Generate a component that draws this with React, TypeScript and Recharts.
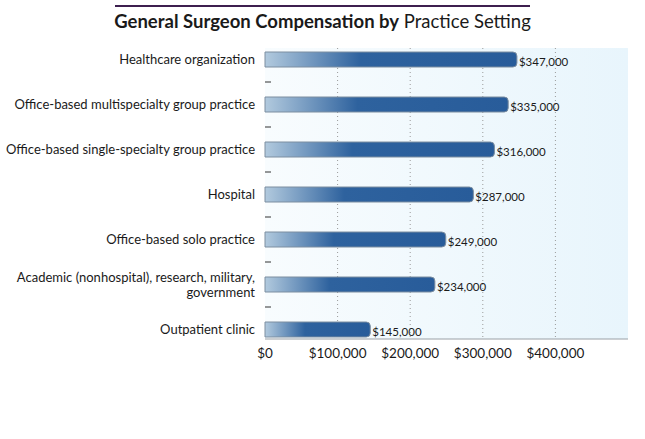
import React from "react";
import { BarChart, Bar, XAxis, YAxis, CartesianGrid, LabelList } from "recharts";

const categories = [
  "Healthcare organization",
  "Office-based multispecialty group practice",
  "Office-based single-specialty group practice",
  "Hospital",
  "Office-based solo practice",
  "Academic (nonhospital), research, military, government",
  "Outpatient clinic",
];
const compensation = [347000, 335000, 316000, 287000, 249000, 234000, 145000];
const xTicks = [0, 100000, 200000, 300000, 400000];
const xDomain = [0, 500000];
const labelLines: Record<string, string[]> = {
  "Academic (nonhospital), research, military, government": [
    "Academic (nonhospital), research, military,",
    "government",
  ],
};

const data = categories.map((c, i) => ({ name: c, value: compensation[i] }));

const money = (v: number) => "$" + v.toLocaleString("en-US");

const FONT = "Lato, 'Open Sans', sans-serif";

const CatTick = (props: any) => {
  const { x, y, payload, index, visibleTicksCount } = props;
  const lines = labelLines[payload.value] || [payload.value];
  const lh = 15;
  const start = y - ((lines.length - 1) * lh) / 2;
  const half = payload.offset || 0;
  const isLast = index === (visibleTicksCount ?? categories.length) - 1;
  return (
    <g>
      <text x={x - 2} y={start} textAnchor="end" fontSize={13} fill="#1a1a1a" fontFamily={FONT}>
        {lines.map((l: string, i: number) => (
          <tspan key={i} x={x - 2} y={start + i * lh} dy="0.35em">
            {l}
          </tspan>
        ))}
      </text>
      {!isLast && (
        <line x1={x + 8} x2={x + 14} y1={y + half} y2={y + half} stroke="#333" strokeWidth={1} />
      )}
    </g>
  );
};

export default function App() {
  return (
    <div style={{ position: "absolute", left: 0, top: 0, width: 645, height: 439, background: "#fff" }}>
      <div
        style={{
          position: "absolute",
          left: 115,
          top: 5,
          width: 415,
          height: 2,
          background: "#3d1f4f",
        }}
      />
      <div
        style={{
          position: "absolute",
          left: 0,
          top: 10,
          width: 645,
          textAlign: "center",
          fontFamily: FONT,
          fontSize: 18.5,
          color: "#1a1a1a",
        }}
      >
        <span style={{ fontWeight: 700 }}>General Surgeon Compensation by</span> Practice Setting
      </div>
      <BarChart
        width={645}
        height={439}
        data={data}
        layout="vertical"
        margin={{ top: 48, right: 17, bottom: 70, left: 0 }}
        style={{ position: "absolute", left: 0, top: 0 }}
      >
        <defs>
          <linearGradient id="bgGrad" x1="0" y1="0" x2="1" y2="0">
            <stop offset="0%" stopColor="#f8fcfe" />
            <stop offset="100%" stopColor="#e8f5fc" />
          </linearGradient>
          <linearGradient id="barGrad" x1="0" y1="0" x2="1" y2="0">
            <stop offset="0%" stopColor="#b2cade" />
            <stop offset="38%" stopColor="#2e629e" />
            <stop offset="100%" stopColor="#285c9a" />
          </linearGradient>
        </defs>
        <CartesianGrid
          horizontal={false}
          verticalValues={xTicks.slice(1)}
          stroke="#9a9a9a"
          strokeDasharray="1 3"
          fill="url(#bgGrad)"
          fillOpacity={1}
        />
        <XAxis
          type="number"
          domain={xDomain}
          ticks={xTicks}
          tickFormatter={money}
          axisLine={{ stroke: "#9aa0a6" }}
          tickLine={false}
          tick={{ fontSize: 13.5, fill: "#1a1a1a", fontFamily: FONT }}
          tickMargin={3}
          height={30}
        />
        <YAxis
          type="category"
          dataKey="name"
          width={265}
          axisLine={false}
          tickLine={false}
          tick={<CatTick />}
          interval={0}
          padding={{ top: -11, bottom: -13 }}
        />
        <Bar
          dataKey="value"
          barSize={15}
          fill="url(#barGrad)"
          stroke="#7d8ea0"
          strokeWidth={1}
          radius={[0, 4, 4, 0]}
          isAnimationActive={false}
        >
          <LabelList
            dataKey="value"
            position="right"
            offset={2}
            formatter={(v: any) => money(Number(v))}
            style={{ fontSize: 11.5, fill: "#1a1a1a", fontFamily: FONT }}
            dy={2}
          />
        </Bar>
      </BarChart>
    </div>
  );
}
